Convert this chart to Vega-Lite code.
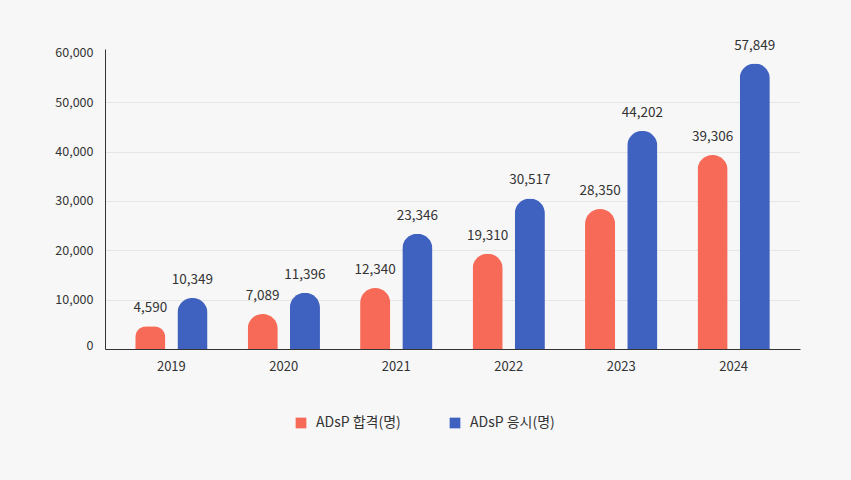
{
  "$schema": "https://vega.github.io/schema/vega-lite/v6.json",
  "width": 695,
  "height": 300,
  "autosize": {"type": "none"},
  "padding": {"left": 105, "top": 49, "right": 51, "bottom": 131},
  "background": "#f7f7f7",
  "config": {
    "font": "Noto Sans CJK KR",
    "view": {"stroke": null}
  },
  "data": {
    "values": [
      {"year": "2019", "type": "ADsP 합격(명)", "value": 4590},
      {"year": "2019", "type": "ADsP 응시(명)", "value": 10349},
      {"year": "2020", "type": "ADsP 합격(명)", "value": 7089},
      {"year": "2020", "type": "ADsP 응시(명)", "value": 11396},
      {"year": "2021", "type": "ADsP 합격(명)", "value": 12340},
      {"year": "2021", "type": "ADsP 응시(명)", "value": 23346},
      {"year": "2022", "type": "ADsP 합격(명)", "value": 19310},
      {"year": "2022", "type": "ADsP 응시(명)", "value": 30517},
      {"year": "2023", "type": "ADsP 합격(명)", "value": 28350},
      {"year": "2023", "type": "ADsP 응시(명)", "value": 44202},
      {"year": "2024", "type": "ADsP 합격(명)", "value": 39306},
      {"year": "2024", "type": "ADsP 응시(명)", "value": 57849}
    ]
  },
  "encoding": {
    "x": {
      "field": "year", "type": "nominal",
      "scale": {"paddingInner": 0, "paddingOuter": 0.09},
      "axis": {
        "title": null, "labelAngle": 0, "ticks": false, "domainColor": "#333333",
        "labelFontSize": 13, "labelColor": "#333333", "labelPadding": 11
      }
    },
    "xOffset": {
      "field": "type", "type": "nominal",
      "sort": ["ADsP 합격(명)", "ADsP 응시(명)"],
      "scale": {"paddingInner": 0.286, "paddingOuter": 0.476}
    },
    "y": {
      "field": "value", "type": "quantitative",
      "scale": {"domain": [0, 60800], "nice": false},
      "axis": {
        "title": null, "ticks": false, "domainColor": "#333333",
        "values": [0, 10000, 20000, 30000, 40000, 50000, 60000],
        "format": ",d", "labelFontSize": 12.5, "labelColor": "#333333", "labelPadding": 12,
        "labelOffset": {"condition": {"test": "datum.value <= 0", "value": -4}, "value": 0},
        "gridColor": {"condition": {"test": "datum.value >= 60000 || datum.value <= 0", "value": "transparent"}, "value": "#e6e6e6"}
      }
    }
  },
  "layer": [
    {
      "mark": {"type": "bar", "cornerRadiusTopLeft": 15, "cornerRadiusTopRight": 15},
      "encoding": {
        "color": {
          "field": "type", "type": "nominal",
          "sort": ["ADsP 합격(명)", "ADsP 응시(명)"],
          "scale": {"domain": ["ADsP 합격(명)", "ADsP 응시(명)"], "range": ["#f66a57", "#3f61bf"]},
          "legend": {
            "title": null, "orient": "none", "direction": "horizontal",
            "legendX": 189, "legendY": 367,
            "symbolType": "square", "symbolSize": 115, "symbolStrokeWidth": 0,
            "labelFontSize": 14, "labelColor": "#333333", "labelOffset": 8,
            "columnPadding": 47
          }
        }
      }
    },
    {
      "mark": {"type": "text", "dy": -11, "baseline": "bottom", "fontSize": 13.5, "color": "#333333"},
      "encoding": {
        "text": {"field": "value", "type": "quantitative", "format": ","}
      }
    }
  ]
}
